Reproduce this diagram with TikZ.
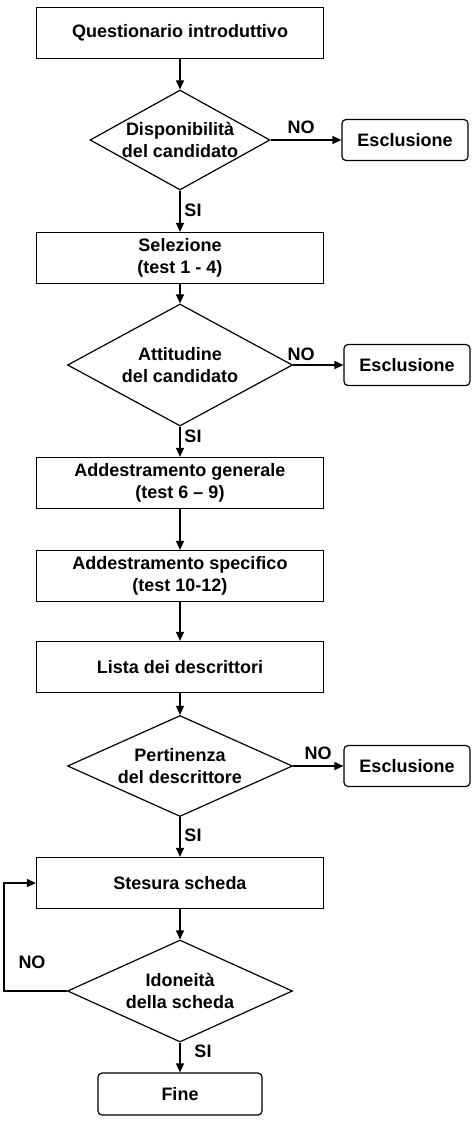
\documentclass[tikz,border=0pt]{standalone}
\usepackage{fontspec}
\setmainfont{Liberation Sans}
\usetikzlibrary{shapes.geometric,arrows.meta}
\tikzset{
	process/.style={draw, line width=1.2pt, minimum width=287pt, minimum height=51pt, inner sep=0pt, align=center},
	decision/.style={draw, diamond, line width=1.2pt, inner sep=0pt, align=center},
	exitbox/.style={draw, rounded corners=4pt, line width=1.2pt, minimum width=126pt, minimum height=41pt, inner sep=0pt},
	flow/.style={line width=1.2pt, -{Triangle[length=9pt,width=8pt]}},
	answer/.style={inner sep=0pt}
}

\begin{document}
\begin{tikzpicture}[x=1pt, y=-1pt, font=\fontsize{18}{22}\selectfont\bfseries]
			%%%%% START %%%%%
			\useasboundingbox (0, 0) rectangle (474, 1121);
			
			\node[process] (quest) at (180, 33) {Questionario introduttivo};
			\node[decision, aspect=1.8, minimum width=180pt, minimum height=100pt] (disp) at (180, 140) {Disponibilità\\del candidato};
			\node[exitbox] (excl1) at (405, 140) {Esclusione};
			
			\node[process] (sel) at (180, 258) {Selezione\\(test 1 - 4)};
			\node[decision, aspect=1.84, minimum width=225pt, minimum height=122pt] (att) at (180, 365) {Attitudine\\del candidato};
			\node[exitbox] (excl2) at (407, 365) {Esclusione};
			
			\node[process] (gen) at (180, 483) {Addestramento generale\\(test 6 -- 9)};
			\node[process] (spec) at (180, 576) {Addestramento specifico\\(test 10-12)};
			\node[process] (lista) at (180, 667) {Lista dei descrittori};
			
			\node[decision, aspect=2.23, minimum width=225pt, minimum height=101pt] (pert) at (180, 766) {Pertinenza\\del descrittore};
			\node[exitbox] (excl3) at (407, 766) {Esclusione};
			
			\node[process] (stes) at (180, 883) {Stesura scheda};
			\node[decision, aspect=2.23, minimum width=225pt, minimum height=102pt] (idon) at (180, 991) {Idoneità\\della scheda};
			\node[exitbox, minimum width=164pt, minimum height=42pt] (fine) at (180, 1094) {Fine};
			
			\coordinate (back) at (4, 991);
			
			\draw[flow] (quest) -- (disp);
			\draw[flow] (disp) -- (excl1);
			\draw[flow] (disp) -- (sel);
			\draw[flow] (sel) -- (att);
			\draw[flow] (att) -- (excl2);
			\draw[flow] (att) -- (gen);
			\draw[flow] (gen) -- (spec);
			\draw[flow] (spec) -- (lista);
			\draw[flow] (lista) -- (pert);
			\draw[flow] (pert) -- (excl3);
			\draw[flow] (pert) -- (stes);
			\draw[flow] (stes) -- (idon);
			\draw[flow] (idon) -- (fine);
			\draw[flow] (idon.west) -- (back) |- (stes.west);
			
			\node[answer] (no1) at (301, 127) {NO};
			\node[answer] (si1) at (193, 210) {SI};
			\node[answer] (no2) at (301, 354) {NO};
			\node[answer] (si2) at (193, 436) {SI};
			\node[answer] (no3) at (318, 753) {NO};
			\node[answer] (si3) at (193, 835) {SI};
			\node[answer] (no4) at (32, 962) {NO};
			\node[answer] (si4) at (203, 1051) {SI};
			
			%%%%% END %%%%%
		\end{tikzpicture}
\end{document}
